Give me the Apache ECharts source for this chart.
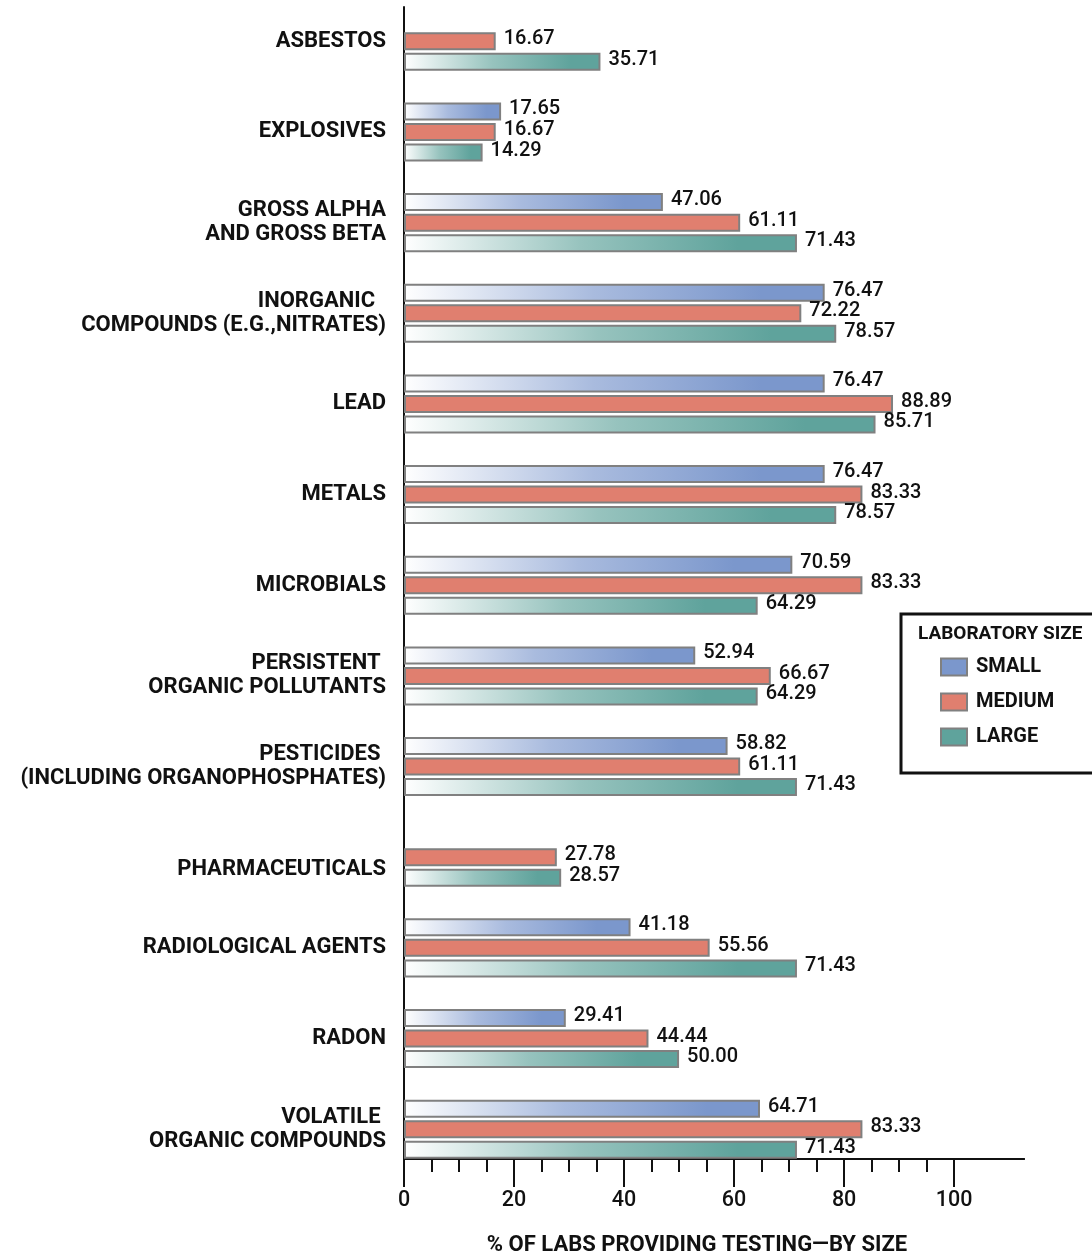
<!DOCTYPE html>
<html>
<head>
<meta charset="utf-8">
<style>html,body{margin:0;padding:0;background:#fff;}#chart{width:1092px;height:1255px;}</style>
<script src="https://cdn.jsdelivr.net/npm/echarts@6/dist/echarts.min.js"></script>
</head>
<body>
<div id="chart"></div>
<script>
const categories = [
  'ASBESTOS',
  'EXPLOSIVES',
  'GROSS ALPHA\nAND GROSS BETA',
  'INORGANIC  \nCOMPOUNDS (E.G.,NITRATES)',
  'LEAD',
  'METALS',
  'MICROBIALS',
  'PERSISTENT \nORGANIC POLLUTANTS',
  'PESTICIDES \n(INCLUDING ORGANOPHOSPHATES)',
  'PHARMACEUTICALS',
  'RADIOLOGICAL AGENTS',
  'RADON',
  'VOLATILE \nORGANIC COMPOUNDS'
];
const seriesNames = ['SMALL', 'MEDIUM', 'LARGE'];
const small  = [null, 17.65, 47.06, 76.47, 76.47, 76.47, 70.59, 52.94, 58.82, null, 41.18, 29.41, 64.71];
const medium = [16.67, 16.67, 61.11, 72.22, 88.89, 83.33, 83.33, 66.67, 61.11, 27.78, 55.56, 44.44, 83.33];
const large  = [35.71, 14.29, 71.43, 78.57, 85.71, 78.57, 64.29, 64.29, 71.43, 28.57, 71.43, 50.00, 71.43];
const minorTicks = [0,5,10,15,20,25,30,35,40,45,50,55,60,65,70,75,80,85,90,95,100];
const majorTicks = [0,20,40,60,80,100];
const legendTitle = 'LABORATORY SIZE';
const axisTitle = '% OF LABS PROVIDING TESTING\u2014BY SIZE';

const X_MAX = 112.7;
const BORDER = '#808080';
const C_SMALL = '#7b97cc', C_MED = '#e07f6f', C_LARGE = '#5fa39c';
const FONT = 'Roboto, "Liberation Sans", sans-serif';

function grad(mid, end) {
  return new echarts.graphic.LinearGradient(0, 0, 1, 0, [
    {offset: 0, color: '#ffffff'},
    {offset: 0.45, color: mid},
    {offset: 0.85, color: end},
    {offset: 1, color: end}
  ]);
}

const labelCfg = {
  show: true, position: 'right', distance: 8, offset: [0, -2],
  fontFamily: FONT, fontWeight: 500, fontSize: 20, color: '#111',
  formatter: p => (p.value == null ? '' : Number(p.value).toFixed(2))
};

const catTextStyle = {fontFamily: FONT, fontWeight: 'bold', fontSize: 22, color: '#111', lineHeight: 24};

const chart = echarts.init(document.getElementById('chart'), null, {renderer: 'canvas'});
chart.setOption({
  animation: false,
  backgroundColor: '#fff',
  title: {
    text: legendTitle, left: 918, top: 624, padding: 0,
    textStyle: {fontFamily: FONT, fontWeight: 'bold', fontSize: 19, color: '#111', lineHeight: 20}
  },
  legend: {
    orient: 'vertical', left: 901, top: 614,
    padding: [43, 90, 26, 39],
    borderColor: '#111', borderWidth: 3,
    itemWidth: 26, itemHeight: 17, itemGap: 15,
    icon: 'rect',
    textStyle: {fontFamily: FONT, fontWeight: 'bold', fontSize: 20, color: '#111', padding: [0, 0, 0, 4]},
    data: [
      {name: 'SMALL', itemStyle: {color: C_SMALL, borderColor: BORDER, borderWidth: 2}},
      {name: 'MEDIUM', itemStyle: {color: C_MED, borderColor: BORDER, borderWidth: 2}},
      {name: 'LARGE', itemStyle: {color: C_LARGE, borderColor: BORDER, borderWidth: 2}}
    ]
  },
  grid: [
    {left: 404, right: 68, top: -4, height: 1178.5, outerBoundsMode: 'none', containLabel: false},
    {left: 404, right: 68, top: 7, bottom: 96, outerBoundsMode: 'none', containLabel: false}
  ],
  xAxis: [
    {gridIndex: 0, type: 'value', min: 0, max: X_MAX, show: false},
    {gridIndex: 1, type: 'value', min: 0, max: X_MAX, position: 'bottom',
      axisLine: {show: true, onZero: false, lineStyle: {color: '#111', width: 2}},
      axisTick: {show: true, length: 13, lineStyle: {color: '#111', width: 2}, customValues: minorTicks},
      axisLabel: {show: false}, splitLine: {show: false}},
    {gridIndex: 1, type: 'value', min: 0, max: X_MAX, position: 'bottom',
      axisLine: {show: true, onZero: false, lineStyle: {color: '#111', width: 2}},
      axisTick: {show: true, length: 28, lineStyle: {color: '#111', width: 2}, customValues: majorTicks},
      axisLabel: {show: true, margin: 31, customValues: majorTicks,
        fontFamily: FONT, fontWeight: 500, fontSize: 21.5, color: '#111'},
      splitLine: {show: false},
      name: axisTitle, nameLocation: 'middle', nameGap: 75,
      nameTextStyle: {fontFamily: FONT, fontWeight: 'bold', fontSize: 22, color: '#111',
        padding: [0, 34, 0, 0]}}
  ],
  yAxis: [
    {gridIndex: 0, type: 'category', inverse: true, data: categories,
      axisLine: {show: false}, axisTick: {show: false},
      axisLabel: Object.assign({margin: 18,
        formatter: v => (v === 'PHARMACEUTICALS' ? '{p|' + v + '}' : v),
        rich: {p: Object.assign({}, catTextStyle, {padding: [24, 0, 0, 0]})}
      }, catTextStyle)},
    {gridIndex: 1, type: 'value', min: 0, max: 1,
      axisLine: {show: true, onZero: false, lineStyle: {color: '#111', width: 2}},
      axisTick: {show: false}, axisLabel: {show: false}, splitLine: {show: false}}
  ],
  series: [
    {name: seriesNames[0], type: 'bar', xAxisIndex: 0, yAxisIndex: 0, data: small,
      barWidth: 18, barGap: '14%',
      itemStyle: {color: grad('#a9bbde', C_SMALL), borderColor: BORDER, borderWidth: 2},
      label: labelCfg},
    {name: seriesNames[1], type: 'bar', xAxisIndex: 0, yAxisIndex: 0, data: medium,
      barWidth: 18, barGap: '14%',
      itemStyle: {color: C_MED, borderColor: BORDER, borderWidth: 2},
      label: labelCfg},
    {name: seriesNames[2], type: 'bar', xAxisIndex: 0, yAxisIndex: 0, data: large,
      barWidth: 18, barGap: '14%',
      itemStyle: {color: grad('#97c3be', C_LARGE), borderColor: BORDER, borderWidth: 2},
      label: labelCfg}
  ]
});
</script>
</body>
</html>
